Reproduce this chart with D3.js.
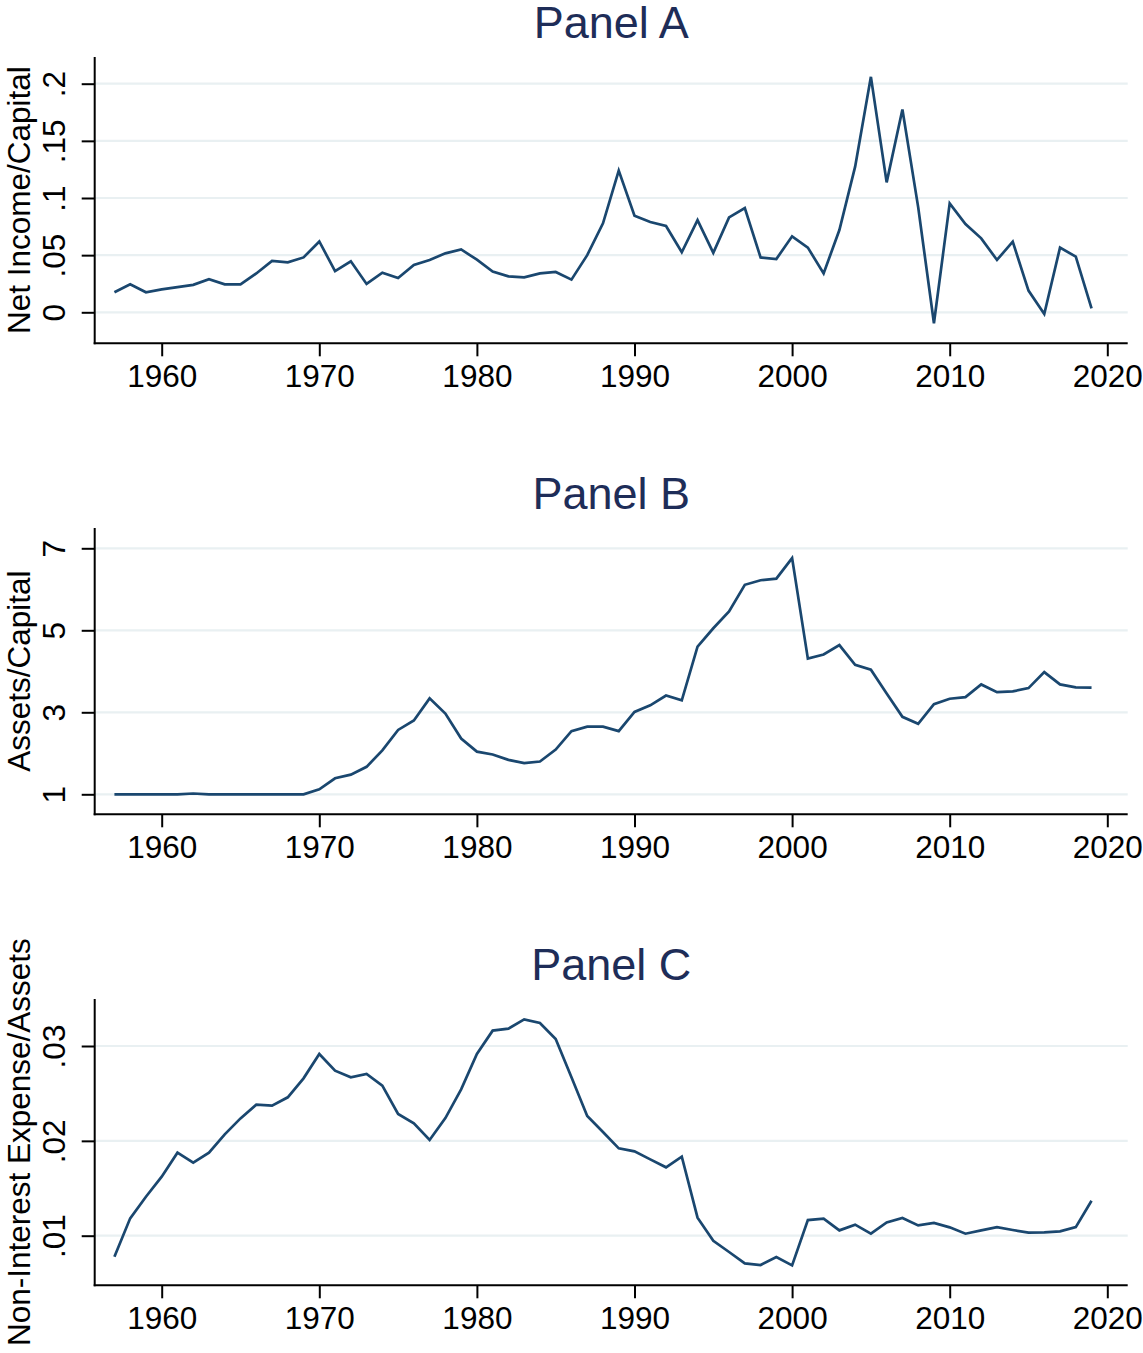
<!DOCTYPE html>
<html>
<head>
<meta charset="utf-8">
<script src="https://cdn.jsdelivr.net/npm/d3@7"></script>
<style>
  html, body { margin: 0; padding: 0; background: #ffffff; }
  svg { display: block; }
  text { font-family: "Liberation Sans", Arial, Helvetica, sans-serif; }
</style>
</head>
<body>
<div id="chart"></div>
<script>
// ---------------- data ----------------
const years = d3.range(1957, 2020);

const panelTitles = ["Panel A", "Panel B", "Panel C"];
const yAxisTitles = ["Net Income/Capital", "Assets/Capital", "Non-Interest Expense/Assets"];

const xTicks = [1960, 1970, 1980, 1990, 2000, 2010, 2020];

const netIncomeCapital = [
  0.0175, 0.0245, 0.0175, 0.0200, 0.0220, 0.0240, 0.0290, 0.0245, 0.0245, 0.0340,
  0.0450, 0.0437, 0.0480, 0.0620, 0.0360, 0.0446, 0.0248, 0.0347, 0.0300, 0.0414,
  0.0458, 0.0516, 0.0550, 0.0460, 0.0356, 0.0315, 0.0306, 0.0340, 0.0353, 0.0286,
  0.0500, 0.0778, 0.1240, 0.0845, 0.0790, 0.0755, 0.0525, 0.0807, 0.0520, 0.0830,
  0.0912, 0.0480, 0.0466, 0.0665, 0.0566, 0.0340, 0.0720, 0.1274, 0.2060, 0.1137,
  0.1775, 0.0920, -0.0096, 0.0953, 0.0772, 0.0647, 0.0458, 0.0618, 0.0190, -0.0015,
  0.0566, 0.0487, 0.0035
];

const assetsCapital = [
  1.00, 1.00, 1.00, 1.00, 1.00, 1.02, 1.00, 1.00, 1.00, 1.00,
  1.00, 1.00, 1.00, 1.12, 1.39, 1.48, 1.67, 2.07, 2.57, 2.80,
  3.34, 2.97, 2.36, 2.04, 1.97, 1.84, 1.76, 1.80, 2.09, 2.54,
  2.65, 2.65, 2.54, 3.01, 3.17, 3.41, 3.29, 4.60, 5.05, 5.46,
  6.11, 6.22, 6.26, 6.76, 4.31, 4.41, 4.64, 4.16, 4.04, 3.46,
  2.89, 2.72, 3.20, 3.33, 3.37, 3.68, 3.49, 3.51, 3.59, 3.98,
  3.68, 3.61, 3.60
];

const nonInterestExpenseAssets = [
  0.00779, 0.01183, 0.01411, 0.01622, 0.01875, 0.01770, 0.01875, 0.02069, 0.02237, 0.02381,
  0.02371, 0.02459, 0.02659, 0.02916, 0.02740, 0.02670, 0.02705, 0.02582, 0.02283, 0.02185,
  0.02009, 0.02240, 0.02543, 0.02916, 0.03162, 0.03183, 0.03281, 0.03243, 0.03074, 0.02670,
  0.02262, 0.02093, 0.01921, 0.01889, 0.01805, 0.01721, 0.01833, 0.01190, 0.00947, 0.00828,
  0.00708, 0.00691, 0.00775, 0.00687, 0.01165, 0.01179, 0.01056, 0.01116, 0.01021, 0.01140,
  0.01186, 0.01109, 0.01134, 0.01088, 0.01021, 0.01056, 0.01091, 0.01060, 0.01032, 0.01035,
  0.01046, 0.01091, 0.01369
];

const yTicksA = [0, 0.05, 0.1, 0.15, 0.2];
const yTicksB = [1, 3, 5, 7];
const yTicksC = [0.01, 0.02, 0.03];

// ---------------- layout ----------------
const W = 1143, H = 1353;
const FONT = 31.5;
const LINE_COLOR = "#1a476f";
const TITLE_COLOR = "#1e2d58";
const GRID_COLOR = "#e9f0f2";

const svg = d3.select("#chart").append("svg")
  .attr("width", W).attr("height", H);

const plotLeft = 94.7, plotRight = 1127.7;
const x = d3.scaleLinear().domain([1960, 2020]).range([161.7, 1107.3]);

const panels = [
  { title: panelTitles[0], ytitle: yAxisTitles[0], values: netIncomeCapital,
    ticks: yTicksA, dom: [0, 0.2], rng: [312.3, 83.7], fmt: v => v === 0 ? "0" : String(v).replace(/^0/, "") },
  { title: panelTitles[1], ytitle: yAxisTitles[1], values: assetsCapital,
    ticks: yTicksB, dom: [1, 7], rng: [323.3, 77.3], fmt: v => String(v) },
  { title: panelTitles[2], ytitle: yAxisTitles[2], values: nonInterestExpenseAssets,
    ticks: yTicksC, dom: [0.01, 0.03], rng: [293.7, 104], fmt: v => String(v).replace(/^0/, "") }
];

const panelOffset = 471;
const plotTop = 57, plotBottom = 343.3;

panels.forEach((p, i) => {
  const g = svg.append("g").attr("transform", `translate(0,${i * panelOffset})`);
  const y = d3.scaleLinear().domain(p.dom).range(p.rng);

  // gridlines
  g.append("g").selectAll("line").data(p.ticks).join("line")
    .attr("x1", plotLeft).attr("x2", plotRight)
    .attr("y1", d => y(d)).attr("y2", d => y(d))
    .attr("stroke", GRID_COLOR).attr("stroke-width", 2.2);

  // title
  g.append("text")
    .attr("x", (plotLeft + plotRight) / 2).attr("y", 38)
    .attr("text-anchor", "middle")
    .attr("font-size", 45).attr("fill", TITLE_COLOR)
    .text(p.title);

  // y axis
  const ya = g.append("g").attr("transform", `translate(${plotLeft},0)`)
    .call(d3.axisLeft(y).tickValues(p.ticks).tickFormat(p.fmt).tickSize(13).tickSizeOuter(0));
  ya.select(".domain").remove();
  ya.selectAll(".tick line").attr("stroke", "#000").attr("stroke-width", 2);
  ya.selectAll(".tick text")
    .attr("x", null).attr("dy", null)
    .attr("transform", "translate(-30,0) rotate(-90)")
    .attr("text-anchor", "middle")
    .attr("font-size", FONT).attr("fill", "#000")
    .attr("font-family", "Liberation Sans, Arial, sans-serif");
  g.append("line")
    .attr("x1", plotLeft).attr("x2", plotLeft)
    .attr("y1", plotTop).attr("y2", plotBottom + 1)
    .attr("stroke", "#000").attr("stroke-width", 2);

  // y axis title
  g.append("text")
    .attr("transform", `translate(29.5,${(plotTop + plotBottom) / 2}) rotate(-90)`)
    .attr("text-anchor", "middle")
    .attr("font-size", FONT).attr("fill", "#000")
    .text(p.ytitle);

  // x axis
  const xa = g.append("g").attr("transform", `translate(0,${plotBottom})`)
    .call(d3.axisBottom(x).tickValues(xTicks).tickFormat(d3.format("d")).tickSize(13).tickSizeOuter(0));
  xa.select(".domain").remove();
  xa.selectAll(".tick line").attr("stroke", "#000").attr("stroke-width", 2);
  xa.selectAll(".tick text")
    .attr("y", 44).attr("dy", null)
    .attr("font-size", FONT).attr("fill", "#000")
    .attr("font-family", "Liberation Sans, Arial, sans-serif");
  g.append("line")
    .attr("x1", plotLeft - 1).attr("x2", plotRight)
    .attr("y1", plotBottom).attr("y2", plotBottom)
    .attr("stroke", "#000").attr("stroke-width", 2);

  // series line
  const line = d3.line().x((d, k) => x(years[k])).y(d => y(d));
  g.append("path")
    .datum(p.values)
    .attr("d", line)
    .attr("fill", "none")
    .attr("stroke", LINE_COLOR)
    .attr("stroke-width", 2.7)
    .attr("stroke-linejoin", "miter");
});
</script>
</body>
</html>
